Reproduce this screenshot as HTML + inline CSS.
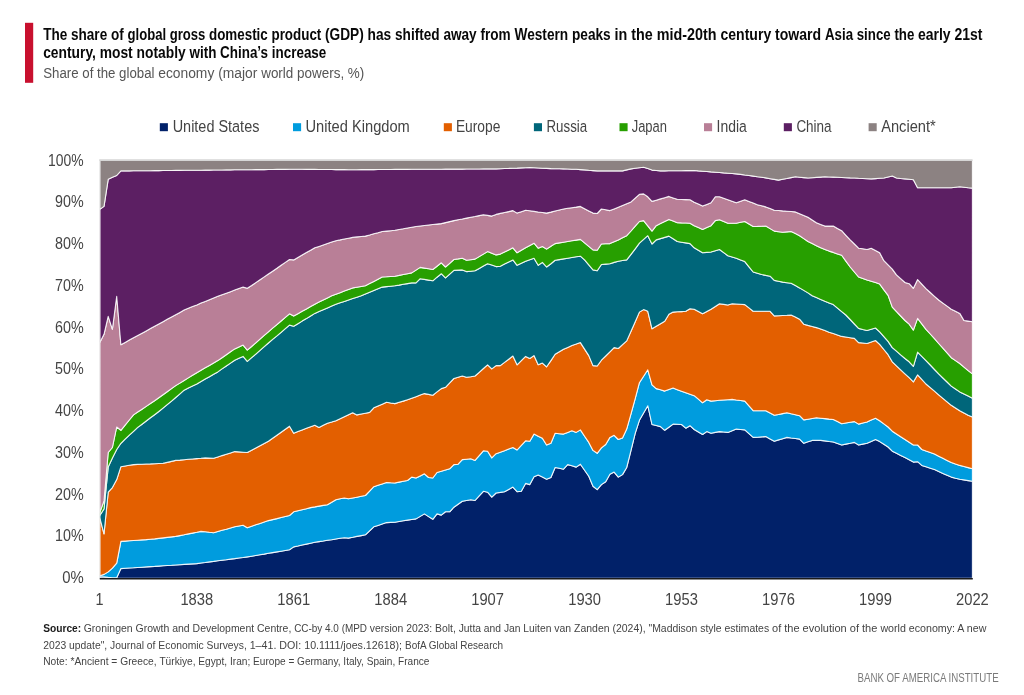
<!DOCTYPE html>
<html><head><meta charset="utf-8"><title>Share of global GDP</title>
<style>
html,body{margin:0;padding:0;background:#ffffff;}
body{width:1024px;height:695px;overflow:hidden;font-family:"Liberation Sans",sans-serif;}
svg{position:absolute;left:0;top:0;display:block;font-family:"Liberation Sans",sans-serif;will-change:transform;}
</style></head>
<body>
<svg width="1024" height="695" viewBox="0 0 1024 695">
<rect x="0" y="0" width="1024" height="695" fill="#ffffff"/>
<rect x="25" y="22.8" width="8.2" height="60" fill="#c8102e"/>
<g>
<polygon points="99.8,576.9 104.0,576.9 108.2,577.4 112.4,577.8 116.7,577.8 120.9,568.6 125.1,568.3 129.3,568.0 133.5,567.8 137.7,567.5 142.0,567.2 146.2,566.9 150.4,566.6 154.6,566.4 158.8,566.1 163.0,565.8 167.2,565.5 171.5,565.3 175.7,565.0 179.9,564.7 184.1,564.4 188.3,564.1 192.5,563.9 196.8,563.6 201.0,563.0 205.2,562.5 209.4,561.9 213.6,561.4 217.8,560.8 222.0,560.2 226.3,559.7 230.5,559.1 234.7,558.6 238.9,558.0 243.1,557.5 247.3,556.9 251.6,556.2 255.8,555.5 260.0,554.8 264.2,554.1 268.4,553.3 272.6,552.6 276.9,551.9 281.1,551.2 285.3,550.5 289.5,549.8 293.7,546.9 297.9,546.0 302.1,545.0 306.4,544.1 310.6,543.2 314.8,542.3 319.0,541.6 323.2,541.0 327.4,540.3 331.7,539.7 335.9,539.0 340.1,538.3 344.3,537.7 348.5,538.1 352.7,537.3 356.9,536.4 361.2,535.6 365.4,534.8 369.6,530.8 373.8,526.8 378.0,525.4 382.2,524.0 386.5,522.6 390.7,522.4 394.9,522.2 399.1,521.5 403.3,520.8 407.5,520.1 411.7,519.5 416.0,518.9 420.2,516.4 424.4,513.9 428.6,516.6 432.8,519.3 437.0,513.9 441.3,515.1 445.5,511.8 449.7,511.8 453.9,507.2 458.1,504.3 462.3,501.3 466.5,500.5 470.8,499.7 475.0,500.5 479.2,495.9 483.4,491.3 487.6,492.2 491.8,497.2 496.1,493.0 500.3,492.4 504.5,491.7 508.7,489.4 512.9,487.1 517.1,491.7 521.3,491.3 525.6,483.4 529.8,484.6 534.0,476.7 538.2,475.0 542.4,477.1 546.6,479.2 550.9,477.5 555.1,467.5 559.3,468.3 563.5,469.2 567.7,464.6 571.9,465.8 576.2,467.1 580.4,464.2 584.6,470.2 588.8,476.3 593.0,486.3 597.2,489.6 601.4,484.6 605.7,481.7 609.9,474.2 614.1,472.1 618.3,477.1 622.5,474.6 626.7,467.5 631.0,450.4 635.2,433.3 639.4,420.3 643.6,413.0 647.8,405.7 652.0,424.5 656.2,425.5 660.5,426.6 664.7,430.3 668.9,427.2 673.1,424.1 677.3,424.3 681.5,424.5 685.8,428.2 690.0,425.7 694.2,429.5 698.4,432.0 702.6,434.5 706.8,431.6 711.0,433.3 715.3,432.4 719.5,431.6 723.7,432.0 727.9,432.4 732.1,430.8 736.3,429.1 740.6,429.5 744.8,429.9 749.0,433.7 753.2,437.4 757.4,437.2 761.6,436.9 765.8,436.6 770.1,438.9 774.3,441.2 778.5,439.9 782.7,438.7 786.9,437.4 791.1,438.0 795.4,438.5 799.6,439.1 803.8,443.3 808.0,441.8 812.2,440.4 816.4,440.4 820.7,440.4 824.9,440.9 829.1,441.5 833.3,442.0 837.5,443.5 841.7,445.0 845.9,444.1 850.2,443.3 854.4,442.4 858.6,445.0 862.8,444.1 867.0,443.3 871.2,441.4 875.5,439.5 879.7,441.6 883.9,444.3 888.1,447.0 892.3,451.2 896.5,453.3 900.7,455.4 905.0,457.5 909.2,459.8 913.4,462.1 917.6,461.7 921.8,465.4 926.0,466.8 930.3,468.2 934.5,469.6 938.7,471.5 942.9,473.4 947.1,475.2 951.3,477.1 955.5,478.2 959.8,479.2 964.0,479.9 968.2,480.6 972.4,481.3 972.4,578.2 968.2,578.2 964.0,578.2 959.8,578.2 955.5,578.2 951.3,578.2 947.1,578.2 942.9,578.2 938.7,578.2 934.5,578.2 930.3,578.2 926.0,578.2 921.8,578.2 917.6,578.2 913.4,578.2 909.2,578.2 905.0,578.2 900.7,578.2 896.5,578.2 892.3,578.2 888.1,578.2 883.9,578.2 879.7,578.2 875.5,578.2 871.2,578.2 867.0,578.2 862.8,578.2 858.6,578.2 854.4,578.2 850.2,578.2 845.9,578.2 841.7,578.2 837.5,578.2 833.3,578.2 829.1,578.2 824.9,578.2 820.7,578.2 816.4,578.2 812.2,578.2 808.0,578.2 803.8,578.2 799.6,578.2 795.4,578.2 791.1,578.2 786.9,578.2 782.7,578.2 778.5,578.2 774.3,578.2 770.1,578.2 765.8,578.2 761.6,578.2 757.4,578.2 753.2,578.2 749.0,578.2 744.8,578.2 740.6,578.2 736.3,578.2 732.1,578.2 727.9,578.2 723.7,578.2 719.5,578.2 715.3,578.2 711.0,578.2 706.8,578.2 702.6,578.2 698.4,578.2 694.2,578.2 690.0,578.2 685.8,578.2 681.5,578.2 677.3,578.2 673.1,578.2 668.9,578.2 664.7,578.2 660.5,578.2 656.2,578.2 652.0,578.2 647.8,578.2 643.6,578.2 639.4,578.2 635.2,578.2 631.0,578.2 626.7,578.2 622.5,578.2 618.3,578.2 614.1,578.2 609.9,578.2 605.7,578.2 601.4,578.2 597.2,578.2 593.0,578.2 588.8,578.2 584.6,578.2 580.4,578.2 576.2,578.2 571.9,578.2 567.7,578.2 563.5,578.2 559.3,578.2 555.1,578.2 550.9,578.2 546.6,578.2 542.4,578.2 538.2,578.2 534.0,578.2 529.8,578.2 525.6,578.2 521.3,578.2 517.1,578.2 512.9,578.2 508.7,578.2 504.5,578.2 500.3,578.2 496.1,578.2 491.8,578.2 487.6,578.2 483.4,578.2 479.2,578.2 475.0,578.2 470.8,578.2 466.5,578.2 462.3,578.2 458.1,578.2 453.9,578.2 449.7,578.2 445.5,578.2 441.3,578.2 437.0,578.2 432.8,578.2 428.6,578.2 424.4,578.2 420.2,578.2 416.0,578.2 411.7,578.2 407.5,578.2 403.3,578.2 399.1,578.2 394.9,578.2 390.7,578.2 386.5,578.2 382.2,578.2 378.0,578.2 373.8,578.2 369.6,578.2 365.4,578.2 361.2,578.2 356.9,578.2 352.7,578.2 348.5,578.2 344.3,578.2 340.1,578.2 335.9,578.2 331.7,578.2 327.4,578.2 323.2,578.2 319.0,578.2 314.8,578.2 310.6,578.2 306.4,578.2 302.1,578.2 297.9,578.2 293.7,578.2 289.5,578.2 285.3,578.2 281.1,578.2 276.9,578.2 272.6,578.2 268.4,578.2 264.2,578.2 260.0,578.2 255.8,578.2 251.6,578.2 247.3,578.2 243.1,578.2 238.9,578.2 234.7,578.2 230.5,578.2 226.3,578.2 222.0,578.2 217.8,578.2 213.6,578.2 209.4,578.2 205.2,578.2 201.0,578.2 196.8,578.2 192.5,578.2 188.3,578.2 184.1,578.2 179.9,578.2 175.7,578.2 171.5,578.2 167.2,578.2 163.0,578.2 158.8,578.2 154.6,578.2 150.4,578.2 146.2,578.2 142.0,578.2 137.7,578.2 133.5,578.2 129.3,578.2 125.1,578.2 120.9,578.2 116.7,578.2 112.4,578.2 108.2,578.2 104.0,578.2 99.8,578.2" fill="#012169" stroke="#ffffff" stroke-opacity="0.85" stroke-width="1.1" stroke-linejoin="round"/>
<polygon points="99.8,575.7 104.0,574.4 108.2,571.9 112.4,568.2 116.7,563.2 120.9,541.4 125.1,541.1 129.3,540.8 133.5,540.5 137.7,540.2 142.0,539.9 146.2,539.6 150.4,539.2 154.6,538.9 158.8,538.4 163.0,537.9 167.2,537.4 171.5,536.9 175.7,536.4 179.9,535.6 184.1,534.8 188.3,533.9 192.5,533.1 196.8,532.3 201.0,531.4 205.2,531.8 209.4,532.3 213.6,532.7 217.8,531.5 222.0,530.3 226.3,529.2 230.5,528.0 234.7,526.8 238.9,526.0 243.1,525.2 247.3,527.7 251.6,526.2 255.8,524.8 260.0,523.4 264.2,522.0 268.4,520.6 272.6,519.6 276.9,518.6 281.1,517.5 285.3,516.5 289.5,515.5 293.7,511.8 297.9,510.7 302.1,509.7 306.4,508.7 310.6,507.6 314.8,506.9 319.0,506.1 323.2,505.4 327.4,504.7 331.7,502.2 335.9,499.7 340.1,498.8 344.3,498.0 348.5,498.8 352.7,498.0 356.9,497.2 361.2,496.3 365.4,495.5 369.6,491.1 373.8,486.7 378.0,485.3 382.2,483.9 386.5,482.5 390.7,482.8 394.9,483.0 399.1,482.1 403.3,481.3 407.5,480.5 411.7,477.1 416.0,478.0 420.2,475.9 424.4,473.8 428.6,477.5 432.8,478.0 437.0,472.5 441.3,471.3 445.5,470.0 449.7,468.8 453.9,464.6 458.1,464.2 462.3,459.6 466.5,459.2 470.8,458.7 475.0,460.4 479.2,455.6 483.4,450.8 487.6,451.2 491.8,457.9 496.1,453.7 500.3,452.3 504.5,450.8 508.7,449.1 512.9,447.5 517.1,450.0 521.3,445.4 525.6,440.8 529.8,441.2 534.0,434.1 538.2,436.2 542.4,438.3 546.6,445.0 550.9,443.3 555.1,433.3 559.3,433.7 563.5,434.1 567.7,432.4 571.9,430.8 576.2,432.4 580.4,429.9 584.6,436.2 588.8,442.4 593.0,450.4 597.2,453.3 601.4,447.9 605.7,444.5 609.9,437.4 614.1,435.3 618.3,439.5 622.5,437.9 626.7,429.1 631.0,413.8 635.2,398.6 639.4,382.7 643.6,376.2 647.8,369.8 652.0,384.8 656.2,388.6 660.5,389.8 664.7,391.1 668.9,389.6 673.1,388.1 677.3,389.7 681.5,391.2 685.8,392.7 690.0,394.2 694.2,395.7 698.4,399.2 702.6,402.8 706.8,399.8 711.0,401.1 715.3,400.7 719.5,400.3 723.7,400.0 727.9,399.7 732.1,399.4 736.3,400.0 740.6,400.5 744.8,401.1 749.0,405.9 753.2,410.7 757.4,410.7 761.6,410.7 765.8,410.7 770.1,413.0 774.3,415.3 778.5,414.5 782.7,413.6 786.9,412.8 791.1,413.8 795.4,414.7 799.6,415.7 803.8,419.9 808.0,419.2 812.2,418.5 816.4,417.8 820.7,418.2 824.9,418.6 829.1,419.1 833.3,419.5 837.5,421.6 841.7,423.7 845.9,423.0 850.2,422.3 854.4,421.6 858.6,424.1 862.8,423.0 867.0,422.0 871.2,420.1 875.5,418.2 879.7,420.7 883.9,423.9 888.1,427.0 892.3,431.2 896.5,434.0 900.7,436.7 905.0,439.5 909.2,442.2 913.4,445.0 917.6,445.0 921.8,449.5 926.0,451.1 930.3,452.6 934.5,454.1 938.7,456.2 942.9,458.3 947.1,460.4 951.3,462.5 955.5,464.0 959.8,465.4 964.0,466.5 968.2,467.6 972.4,468.8 972.4,481.3 968.2,480.6 964.0,479.9 959.8,479.2 955.5,478.2 951.3,477.1 947.1,475.2 942.9,473.4 938.7,471.5 934.5,469.6 930.3,468.2 926.0,466.8 921.8,465.4 917.6,461.7 913.4,462.1 909.2,459.8 905.0,457.5 900.7,455.4 896.5,453.3 892.3,451.2 888.1,447.0 883.9,444.3 879.7,441.6 875.5,439.5 871.2,441.4 867.0,443.3 862.8,444.1 858.6,445.0 854.4,442.4 850.2,443.3 845.9,444.1 841.7,445.0 837.5,443.5 833.3,442.0 829.1,441.5 824.9,440.9 820.7,440.4 816.4,440.4 812.2,440.4 808.0,441.8 803.8,443.3 799.6,439.1 795.4,438.5 791.1,438.0 786.9,437.4 782.7,438.7 778.5,439.9 774.3,441.2 770.1,438.9 765.8,436.6 761.6,436.9 757.4,437.2 753.2,437.4 749.0,433.7 744.8,429.9 740.6,429.5 736.3,429.1 732.1,430.8 727.9,432.4 723.7,432.0 719.5,431.6 715.3,432.4 711.0,433.3 706.8,431.6 702.6,434.5 698.4,432.0 694.2,429.5 690.0,425.7 685.8,428.2 681.5,424.5 677.3,424.3 673.1,424.1 668.9,427.2 664.7,430.3 660.5,426.6 656.2,425.5 652.0,424.5 647.8,405.7 643.6,413.0 639.4,420.3 635.2,433.3 631.0,450.4 626.7,467.5 622.5,474.6 618.3,477.1 614.1,472.1 609.9,474.2 605.7,481.7 601.4,484.6 597.2,489.6 593.0,486.3 588.8,476.3 584.6,470.2 580.4,464.2 576.2,467.1 571.9,465.8 567.7,464.6 563.5,469.2 559.3,468.3 555.1,467.5 550.9,477.5 546.6,479.2 542.4,477.1 538.2,475.0 534.0,476.7 529.8,484.6 525.6,483.4 521.3,491.3 517.1,491.7 512.9,487.1 508.7,489.4 504.5,491.7 500.3,492.4 496.1,493.0 491.8,497.2 487.6,492.2 483.4,491.3 479.2,495.9 475.0,500.5 470.8,499.7 466.5,500.5 462.3,501.3 458.1,504.3 453.9,507.2 449.7,511.8 445.5,511.8 441.3,515.1 437.0,513.9 432.8,519.3 428.6,516.6 424.4,513.9 420.2,516.4 416.0,518.9 411.7,519.5 407.5,520.1 403.3,520.8 399.1,521.5 394.9,522.2 390.7,522.4 386.5,522.6 382.2,524.0 378.0,525.4 373.8,526.8 369.6,530.8 365.4,534.8 361.2,535.6 356.9,536.4 352.7,537.3 348.5,538.1 344.3,537.7 340.1,538.3 335.9,539.0 331.7,539.7 327.4,540.3 323.2,541.0 319.0,541.6 314.8,542.3 310.6,543.2 306.4,544.1 302.1,545.0 297.9,546.0 293.7,546.9 289.5,549.8 285.3,550.5 281.1,551.2 276.9,551.9 272.6,552.6 268.4,553.3 264.2,554.1 260.0,554.8 255.8,555.5 251.6,556.2 247.3,556.9 243.1,557.5 238.9,558.0 234.7,558.6 230.5,559.1 226.3,559.7 222.0,560.2 217.8,560.8 213.6,561.4 209.4,561.9 205.2,562.5 201.0,563.0 196.8,563.6 192.5,563.9 188.3,564.1 184.1,564.4 179.9,564.7 175.7,565.0 171.5,565.3 167.2,565.5 163.0,565.8 158.8,566.1 154.6,566.4 150.4,566.6 146.2,566.9 142.0,567.2 137.7,567.5 133.5,567.8 129.3,568.0 125.1,568.3 120.9,568.6 116.7,577.8 112.4,577.8 108.2,577.4 104.0,576.9 99.8,576.9" fill="#009cde" stroke="#ffffff" stroke-opacity="0.85" stroke-width="1.1" stroke-linejoin="round"/>
<polygon points="99.8,517.6 104.0,533.9 108.2,492.2 112.4,487.6 116.7,479.6 120.9,466.7 125.1,466.0 129.3,465.3 133.5,464.6 137.7,464.4 142.0,464.2 146.2,464.0 150.4,463.9 154.6,463.7 158.8,463.5 163.0,463.3 167.2,462.4 171.5,461.4 175.7,460.4 179.9,460.1 184.1,459.7 188.3,459.3 192.5,459.0 196.8,458.6 201.0,458.3 205.2,457.9 209.4,458.1 213.6,458.3 217.8,457.0 222.0,455.6 226.3,454.3 230.5,453.0 234.7,451.6 238.9,451.9 243.1,452.2 247.3,452.5 251.6,450.2 255.8,448.0 260.0,445.7 264.2,443.4 268.4,441.2 272.6,438.2 276.9,435.2 281.1,432.2 285.3,429.2 289.5,426.2 293.7,433.3 297.9,431.6 302.1,429.9 306.4,428.2 310.6,426.8 314.8,425.3 319.0,427.4 323.2,425.3 327.4,423.2 331.7,422.0 335.9,420.7 340.1,418.7 344.3,416.8 348.5,414.8 352.7,412.8 356.9,414.9 361.2,414.0 365.4,413.2 369.6,412.4 373.8,407.8 378.0,406.0 382.2,404.2 386.5,402.3 390.7,403.0 394.9,403.6 399.1,402.3 403.3,401.1 407.5,399.8 411.7,398.3 416.0,396.7 420.2,395.1 424.4,393.6 428.6,394.4 432.8,395.2 437.0,391.9 441.3,388.6 445.5,387.3 449.7,382.9 453.9,378.5 458.1,377.3 462.3,376.0 466.5,377.3 470.8,376.7 475.0,376.0 479.2,372.3 483.4,368.5 487.6,364.8 491.8,368.9 496.1,365.6 500.3,365.6 504.5,362.4 508.7,359.2 512.9,356.0 517.1,364.8 521.3,360.6 525.6,356.4 529.8,358.5 534.0,355.6 538.2,364.8 542.4,363.1 546.6,366.8 550.9,360.6 555.1,354.3 559.3,351.8 563.5,349.3 567.7,347.4 571.9,345.5 576.2,344.1 580.4,342.6 584.6,349.1 588.8,355.6 593.0,365.6 597.2,366.0 601.4,360.2 605.7,356.0 609.9,351.8 614.1,347.6 618.3,348.5 622.5,344.7 626.7,340.9 631.0,331.3 635.2,321.7 639.4,312.1 643.6,309.6 647.8,311.3 652.0,328.8 656.2,326.3 660.5,323.8 664.7,321.3 668.9,314.2 673.1,312.1 677.3,311.8 681.5,311.6 685.8,311.3 690.0,308.8 694.2,309.2 698.4,311.5 702.6,313.8 706.8,311.5 711.0,309.2 715.3,306.5 719.5,303.8 723.7,304.4 727.9,305.0 732.1,303.8 736.3,304.0 740.6,304.3 744.8,304.6 749.0,307.9 753.2,311.3 757.4,311.3 761.6,311.3 765.8,311.3 770.1,311.3 774.3,315.9 778.5,315.7 782.7,315.5 786.9,315.3 791.1,315.0 795.4,317.1 799.6,319.2 803.8,324.2 808.0,325.4 812.2,326.5 816.4,327.6 820.7,329.1 824.9,330.6 829.1,332.2 833.3,333.6 837.5,335.0 841.7,336.4 845.9,337.0 850.2,337.7 854.4,338.4 858.6,342.6 862.8,343.0 867.0,343.5 871.2,342.0 875.5,340.5 879.7,344.3 883.9,349.5 888.1,354.7 892.3,361.8 896.5,365.9 900.7,369.9 905.0,373.9 909.2,377.7 913.4,381.9 917.6,374.8 921.8,379.4 926.0,384.0 930.3,387.6 934.5,391.2 938.7,394.8 942.9,398.3 947.1,401.8 951.3,405.3 955.5,408.0 959.8,410.7 964.0,413.0 968.2,415.3 972.4,417.0 972.4,468.8 968.2,467.6 964.0,466.5 959.8,465.4 955.5,464.0 951.3,462.5 947.1,460.4 942.9,458.3 938.7,456.2 934.5,454.1 930.3,452.6 926.0,451.1 921.8,449.5 917.6,445.0 913.4,445.0 909.2,442.2 905.0,439.5 900.7,436.7 896.5,434.0 892.3,431.2 888.1,427.0 883.9,423.9 879.7,420.7 875.5,418.2 871.2,420.1 867.0,422.0 862.8,423.0 858.6,424.1 854.4,421.6 850.2,422.3 845.9,423.0 841.7,423.7 837.5,421.6 833.3,419.5 829.1,419.1 824.9,418.6 820.7,418.2 816.4,417.8 812.2,418.5 808.0,419.2 803.8,419.9 799.6,415.7 795.4,414.7 791.1,413.8 786.9,412.8 782.7,413.6 778.5,414.5 774.3,415.3 770.1,413.0 765.8,410.7 761.6,410.7 757.4,410.7 753.2,410.7 749.0,405.9 744.8,401.1 740.6,400.5 736.3,400.0 732.1,399.4 727.9,399.7 723.7,400.0 719.5,400.3 715.3,400.7 711.0,401.1 706.8,399.8 702.6,402.8 698.4,399.2 694.2,395.7 690.0,394.2 685.8,392.7 681.5,391.2 677.3,389.7 673.1,388.1 668.9,389.6 664.7,391.1 660.5,389.8 656.2,388.6 652.0,384.8 647.8,369.8 643.6,376.2 639.4,382.7 635.2,398.6 631.0,413.8 626.7,429.1 622.5,437.9 618.3,439.5 614.1,435.3 609.9,437.4 605.7,444.5 601.4,447.9 597.2,453.3 593.0,450.4 588.8,442.4 584.6,436.2 580.4,429.9 576.2,432.4 571.9,430.8 567.7,432.4 563.5,434.1 559.3,433.7 555.1,433.3 550.9,443.3 546.6,445.0 542.4,438.3 538.2,436.2 534.0,434.1 529.8,441.2 525.6,440.8 521.3,445.4 517.1,450.0 512.9,447.5 508.7,449.1 504.5,450.8 500.3,452.3 496.1,453.7 491.8,457.9 487.6,451.2 483.4,450.8 479.2,455.6 475.0,460.4 470.8,458.7 466.5,459.2 462.3,459.6 458.1,464.2 453.9,464.6 449.7,468.8 445.5,470.0 441.3,471.3 437.0,472.5 432.8,478.0 428.6,477.5 424.4,473.8 420.2,475.9 416.0,478.0 411.7,477.1 407.5,480.5 403.3,481.3 399.1,482.1 394.9,483.0 390.7,482.8 386.5,482.5 382.2,483.9 378.0,485.3 373.8,486.7 369.6,491.1 365.4,495.5 361.2,496.3 356.9,497.2 352.7,498.0 348.5,498.8 344.3,498.0 340.1,498.8 335.9,499.7 331.7,502.2 327.4,504.7 323.2,505.4 319.0,506.1 314.8,506.9 310.6,507.6 306.4,508.7 302.1,509.7 297.9,510.7 293.7,511.8 289.5,515.5 285.3,516.5 281.1,517.5 276.9,518.6 272.6,519.6 268.4,520.6 264.2,522.0 260.0,523.4 255.8,524.8 251.6,526.2 247.3,527.7 243.1,525.2 238.9,526.0 234.7,526.8 230.5,528.0 226.3,529.2 222.0,530.3 217.8,531.5 213.6,532.7 209.4,532.3 205.2,531.8 201.0,531.4 196.8,532.3 192.5,533.1 188.3,533.9 184.1,534.8 179.9,535.6 175.7,536.4 171.5,536.9 167.2,537.4 163.0,537.9 158.8,538.4 154.6,538.9 150.4,539.2 146.2,539.6 142.0,539.9 137.7,540.2 133.5,540.5 129.3,540.8 125.1,541.1 120.9,541.4 116.7,563.2 112.4,568.2 108.2,571.9 104.0,574.4 99.8,575.7" fill="#e35f00" stroke="#ffffff" stroke-opacity="0.85" stroke-width="1.1" stroke-linejoin="round"/>
<polygon points="99.8,515.5 104.0,508.9 108.2,467.1 112.4,457.9 116.7,449.5 120.9,443.3 125.1,439.1 129.3,435.2 133.5,431.3 137.7,427.4 142.0,424.2 146.2,421.0 150.4,417.8 154.6,414.7 158.8,411.5 163.0,408.1 167.2,404.6 171.5,401.1 175.7,397.5 179.9,393.9 184.1,390.2 188.3,388.1 192.5,386.1 196.8,384.0 201.0,381.5 205.2,379.1 209.4,376.7 213.6,374.3 217.8,371.9 222.0,368.9 226.3,366.0 230.5,363.1 234.7,360.2 238.9,358.3 243.1,356.4 247.3,361.4 251.6,357.7 255.8,354.1 260.0,350.4 264.2,346.7 268.4,343.0 272.6,339.4 276.9,335.9 281.1,332.3 285.3,328.7 289.5,325.1 293.7,326.3 297.9,323.7 302.1,321.1 306.4,318.6 310.6,316.0 314.8,313.4 319.0,311.5 323.2,309.7 327.4,307.9 331.7,306.0 335.9,304.2 340.1,302.8 344.3,301.4 348.5,300.0 352.7,298.6 356.9,297.2 361.2,295.8 365.4,294.1 369.6,292.3 373.8,290.6 378.0,288.8 382.2,287.1 386.5,286.6 390.7,286.2 394.9,285.8 399.1,285.1 403.3,284.3 407.5,283.6 411.7,282.9 416.0,282.9 420.2,278.7 424.4,279.4 428.6,280.1 432.8,280.8 437.0,277.2 441.3,273.7 445.5,277.9 449.7,274.1 453.9,270.4 458.1,270.1 462.3,269.9 466.5,271.6 470.8,271.2 475.0,270.8 479.2,268.4 483.4,266.0 487.6,263.7 491.8,265.1 496.1,266.6 500.3,266.2 504.5,264.1 508.7,262.0 512.9,259.9 517.1,265.3 521.3,263.3 525.6,261.2 529.8,259.7 534.0,258.2 538.2,265.3 542.4,262.4 546.6,267.0 550.9,263.7 555.1,260.3 559.3,259.6 563.5,258.9 567.7,258.2 571.9,257.5 576.2,256.8 580.4,256.2 584.6,259.9 588.8,264.9 593.0,269.9 597.2,270.8 601.4,264.5 605.7,264.1 609.9,263.7 614.1,262.4 618.3,261.2 622.5,260.5 626.7,259.9 631.0,254.3 635.2,248.8 639.4,243.2 643.6,239.4 647.8,235.7 652.0,244.0 656.2,239.9 660.5,238.6 664.7,237.4 668.9,236.1 673.1,238.8 677.3,241.5 681.5,242.2 685.8,242.9 690.0,243.6 694.2,247.8 698.4,250.3 702.6,252.8 706.8,252.4 711.0,252.0 715.3,250.7 719.5,249.5 723.7,252.6 727.9,255.7 732.1,257.0 736.3,258.2 740.6,259.9 744.8,261.6 749.0,266.8 753.2,272.0 757.4,273.3 761.6,274.5 765.8,275.4 770.1,276.2 774.3,280.4 778.5,281.2 782.7,282.1 786.9,282.7 791.1,283.3 795.4,285.6 799.6,287.9 803.8,290.4 808.0,292.9 812.2,295.8 816.4,297.6 820.7,299.5 824.9,301.3 829.1,302.9 833.3,304.6 837.5,308.1 841.7,311.6 845.9,315.0 850.2,319.5 854.4,324.0 858.6,328.4 862.8,329.5 867.0,330.5 871.2,329.3 875.5,328.0 879.7,331.8 883.9,336.6 888.1,341.4 892.3,347.6 896.5,351.2 900.7,354.9 905.0,358.5 909.2,361.8 913.4,366.4 917.6,352.2 921.8,356.4 926.0,360.6 930.3,365.0 934.5,369.5 938.7,373.9 942.9,378.0 947.1,382.0 951.3,386.1 955.5,389.0 959.8,391.9 964.0,394.0 968.2,396.1 972.4,398.2 972.4,417.0 968.2,415.3 964.0,413.0 959.8,410.7 955.5,408.0 951.3,405.3 947.1,401.8 942.9,398.3 938.7,394.8 934.5,391.2 930.3,387.6 926.0,384.0 921.8,379.4 917.6,374.8 913.4,381.9 909.2,377.7 905.0,373.9 900.7,369.9 896.5,365.9 892.3,361.8 888.1,354.7 883.9,349.5 879.7,344.3 875.5,340.5 871.2,342.0 867.0,343.5 862.8,343.0 858.6,342.6 854.4,338.4 850.2,337.7 845.9,337.0 841.7,336.4 837.5,335.0 833.3,333.6 829.1,332.2 824.9,330.6 820.7,329.1 816.4,327.6 812.2,326.5 808.0,325.4 803.8,324.2 799.6,319.2 795.4,317.1 791.1,315.0 786.9,315.3 782.7,315.5 778.5,315.7 774.3,315.9 770.1,311.3 765.8,311.3 761.6,311.3 757.4,311.3 753.2,311.3 749.0,307.9 744.8,304.6 740.6,304.3 736.3,304.0 732.1,303.8 727.9,305.0 723.7,304.4 719.5,303.8 715.3,306.5 711.0,309.2 706.8,311.5 702.6,313.8 698.4,311.5 694.2,309.2 690.0,308.8 685.8,311.3 681.5,311.6 677.3,311.8 673.1,312.1 668.9,314.2 664.7,321.3 660.5,323.8 656.2,326.3 652.0,328.8 647.8,311.3 643.6,309.6 639.4,312.1 635.2,321.7 631.0,331.3 626.7,340.9 622.5,344.7 618.3,348.5 614.1,347.6 609.9,351.8 605.7,356.0 601.4,360.2 597.2,366.0 593.0,365.6 588.8,355.6 584.6,349.1 580.4,342.6 576.2,344.1 571.9,345.5 567.7,347.4 563.5,349.3 559.3,351.8 555.1,354.3 550.9,360.6 546.6,366.8 542.4,363.1 538.2,364.8 534.0,355.6 529.8,358.5 525.6,356.4 521.3,360.6 517.1,364.8 512.9,356.0 508.7,359.2 504.5,362.4 500.3,365.6 496.1,365.6 491.8,368.9 487.6,364.8 483.4,368.5 479.2,372.3 475.0,376.0 470.8,376.7 466.5,377.3 462.3,376.0 458.1,377.3 453.9,378.5 449.7,382.9 445.5,387.3 441.3,388.6 437.0,391.9 432.8,395.2 428.6,394.4 424.4,393.6 420.2,395.1 416.0,396.7 411.7,398.3 407.5,399.8 403.3,401.1 399.1,402.3 394.9,403.6 390.7,403.0 386.5,402.3 382.2,404.2 378.0,406.0 373.8,407.8 369.6,412.4 365.4,413.2 361.2,414.0 356.9,414.9 352.7,412.8 348.5,414.8 344.3,416.8 340.1,418.7 335.9,420.7 331.7,422.0 327.4,423.2 323.2,425.3 319.0,427.4 314.8,425.3 310.6,426.8 306.4,428.2 302.1,429.9 297.9,431.6 293.7,433.3 289.5,426.2 285.3,429.2 281.1,432.2 276.9,435.2 272.6,438.2 268.4,441.2 264.2,443.4 260.0,445.7 255.8,448.0 251.6,450.2 247.3,452.5 243.1,452.2 238.9,451.9 234.7,451.6 230.5,453.0 226.3,454.3 222.0,455.6 217.8,457.0 213.6,458.3 209.4,458.1 205.2,457.9 201.0,458.3 196.8,458.6 192.5,459.0 188.3,459.3 184.1,459.7 179.9,460.1 175.7,460.4 171.5,461.4 167.2,462.4 163.0,463.3 158.8,463.5 154.6,463.7 150.4,463.9 146.2,464.0 142.0,464.2 137.7,464.4 133.5,464.6 129.3,465.3 125.1,466.0 120.9,466.7 116.7,479.6 112.4,487.6 108.2,492.2 104.0,533.9 99.8,517.6" fill="#00667a" stroke="#ffffff" stroke-opacity="0.85" stroke-width="1.1" stroke-linejoin="round"/>
<polygon points="99.8,512.6 104.0,500.9 108.2,452.5 112.4,447.5 116.7,427.0 120.9,430.3 125.1,425.2 129.3,420.0 133.5,414.9 137.7,412.0 142.0,409.2 146.2,406.4 150.4,403.5 154.6,400.7 158.8,397.7 163.0,394.7 167.2,391.7 171.5,388.6 175.7,385.6 179.9,383.1 184.1,380.5 188.3,377.9 192.5,375.3 196.8,372.7 201.0,370.3 205.2,367.8 209.4,365.4 213.6,363.0 217.8,360.6 222.0,357.7 226.3,354.7 230.5,351.8 234.7,348.9 238.9,347.0 243.1,345.1 247.3,350.1 251.6,346.5 255.8,342.8 260.0,339.1 264.2,335.4 268.4,331.8 272.6,328.2 276.9,324.6 281.1,321.0 285.3,317.4 289.5,313.8 293.7,316.1 297.9,313.7 302.1,311.3 306.4,309.0 310.6,306.6 314.8,304.2 319.0,302.1 323.2,300.0 327.4,297.9 331.7,295.8 335.9,294.2 340.1,292.7 344.3,291.1 348.5,289.5 352.7,287.9 356.9,287.2 361.2,286.5 365.4,285.8 369.6,283.6 373.8,281.4 378.0,279.2 382.2,277.0 386.5,276.8 390.7,276.5 394.9,276.2 399.1,275.4 403.3,274.5 407.5,273.7 411.7,272.9 416.0,270.1 420.2,267.4 424.4,268.1 428.6,268.8 432.8,269.5 437.0,266.2 441.3,262.8 445.5,267.0 449.7,263.3 453.9,259.5 458.1,258.9 462.3,258.2 466.5,260.3 470.8,259.7 475.0,259.1 479.2,256.6 483.4,254.1 487.6,251.6 491.8,253.2 496.1,254.9 500.3,254.1 504.5,252.0 508.7,249.9 512.9,247.8 517.1,252.8 521.3,250.3 525.6,247.8 529.8,245.5 534.0,243.2 538.2,248.2 542.4,246.5 546.6,249.1 550.9,246.3 555.1,243.6 559.3,242.9 563.5,242.2 567.7,241.5 571.9,240.8 576.2,240.1 580.4,239.4 584.6,242.9 588.8,246.4 593.0,249.9 597.2,250.3 601.4,244.0 605.7,243.8 609.9,243.6 614.1,241.7 618.3,239.9 622.5,237.8 626.7,235.7 631.0,231.0 635.2,226.2 639.4,221.5 643.6,220.6 647.8,225.9 652.0,231.1 656.2,225.7 660.5,223.6 664.7,221.5 668.9,219.4 673.1,221.1 677.3,222.7 681.5,222.9 685.8,223.0 690.0,223.2 694.2,225.7 698.4,227.5 702.6,229.4 706.8,227.5 711.0,225.7 715.3,220.6 719.5,219.8 723.7,221.5 727.9,223.2 732.1,223.2 736.3,223.2 740.6,222.3 744.8,221.5 749.0,224.0 753.2,226.5 757.4,226.4 761.6,226.2 765.8,226.1 770.1,228.6 774.3,231.1 778.5,231.7 782.7,232.3 786.9,231.9 791.1,231.5 795.4,233.6 799.6,235.7 803.8,238.6 808.0,241.5 812.2,243.6 816.4,245.7 820.7,247.8 824.9,249.5 829.1,251.1 833.3,252.4 837.5,253.9 841.7,255.3 845.9,261.2 850.2,267.0 854.4,272.0 858.6,277.0 862.8,278.5 867.0,280.0 871.2,281.2 875.5,282.5 879.7,284.1 883.9,289.8 888.1,295.4 892.3,307.1 896.5,311.6 900.7,316.0 905.0,320.5 909.2,324.2 913.4,330.1 917.6,318.4 921.8,323.8 926.0,329.3 930.3,334.0 934.5,338.7 938.7,343.5 942.9,348.2 947.1,352.9 951.3,357.7 955.5,360.6 959.8,363.5 964.0,367.1 968.2,370.6 972.4,373.9 972.4,398.2 968.2,396.1 964.0,394.0 959.8,391.9 955.5,389.0 951.3,386.1 947.1,382.0 942.9,378.0 938.7,373.9 934.5,369.5 930.3,365.0 926.0,360.6 921.8,356.4 917.6,352.2 913.4,366.4 909.2,361.8 905.0,358.5 900.7,354.9 896.5,351.2 892.3,347.6 888.1,341.4 883.9,336.6 879.7,331.8 875.5,328.0 871.2,329.3 867.0,330.5 862.8,329.5 858.6,328.4 854.4,324.0 850.2,319.5 845.9,315.0 841.7,311.6 837.5,308.1 833.3,304.6 829.1,302.9 824.9,301.3 820.7,299.5 816.4,297.6 812.2,295.8 808.0,292.9 803.8,290.4 799.6,287.9 795.4,285.6 791.1,283.3 786.9,282.7 782.7,282.1 778.5,281.2 774.3,280.4 770.1,276.2 765.8,275.4 761.6,274.5 757.4,273.3 753.2,272.0 749.0,266.8 744.8,261.6 740.6,259.9 736.3,258.2 732.1,257.0 727.9,255.7 723.7,252.6 719.5,249.5 715.3,250.7 711.0,252.0 706.8,252.4 702.6,252.8 698.4,250.3 694.2,247.8 690.0,243.6 685.8,242.9 681.5,242.2 677.3,241.5 673.1,238.8 668.9,236.1 664.7,237.4 660.5,238.6 656.2,239.9 652.0,244.0 647.8,235.7 643.6,239.4 639.4,243.2 635.2,248.8 631.0,254.3 626.7,259.9 622.5,260.5 618.3,261.2 614.1,262.4 609.9,263.7 605.7,264.1 601.4,264.5 597.2,270.8 593.0,269.9 588.8,264.9 584.6,259.9 580.4,256.2 576.2,256.8 571.9,257.5 567.7,258.2 563.5,258.9 559.3,259.6 555.1,260.3 550.9,263.7 546.6,267.0 542.4,262.4 538.2,265.3 534.0,258.2 529.8,259.7 525.6,261.2 521.3,263.3 517.1,265.3 512.9,259.9 508.7,262.0 504.5,264.1 500.3,266.2 496.1,266.6 491.8,265.1 487.6,263.7 483.4,266.0 479.2,268.4 475.0,270.8 470.8,271.2 466.5,271.6 462.3,269.9 458.1,270.1 453.9,270.4 449.7,274.1 445.5,277.9 441.3,273.7 437.0,277.2 432.8,280.8 428.6,280.1 424.4,279.4 420.2,278.7 416.0,282.9 411.7,282.9 407.5,283.6 403.3,284.3 399.1,285.1 394.9,285.8 390.7,286.2 386.5,286.6 382.2,287.1 378.0,288.8 373.8,290.6 369.6,292.3 365.4,294.1 361.2,295.8 356.9,297.2 352.7,298.6 348.5,300.0 344.3,301.4 340.1,302.8 335.9,304.2 331.7,306.0 327.4,307.9 323.2,309.7 319.0,311.5 314.8,313.4 310.6,316.0 306.4,318.6 302.1,321.1 297.9,323.7 293.7,326.3 289.5,325.1 285.3,328.7 281.1,332.3 276.9,335.9 272.6,339.4 268.4,343.0 264.2,346.7 260.0,350.4 255.8,354.1 251.6,357.7 247.3,361.4 243.1,356.4 238.9,358.3 234.7,360.2 230.5,363.1 226.3,366.0 222.0,368.9 217.8,371.9 213.6,374.3 209.4,376.7 205.2,379.1 201.0,381.5 196.8,384.0 192.5,386.1 188.3,388.1 184.1,390.2 179.9,393.9 175.7,397.5 171.5,401.1 167.2,404.6 163.0,408.1 158.8,411.5 154.6,414.7 150.4,417.8 146.2,421.0 142.0,424.2 137.7,427.4 133.5,431.3 129.3,435.2 125.1,439.1 120.9,443.3 116.7,449.5 112.4,457.9 108.2,467.1 104.0,508.9 99.8,515.5" fill="#279f00" stroke="#ffffff" stroke-opacity="0.85" stroke-width="1.1" stroke-linejoin="round"/>
<polygon points="99.8,342.6 104.0,334.3 108.2,316.3 112.4,329.3 116.7,296.3 120.9,344.7 125.1,342.4 129.3,340.1 133.5,337.8 137.7,335.5 142.0,333.2 146.2,330.9 150.4,328.6 154.6,326.3 158.8,324.0 163.0,321.7 167.2,319.3 171.5,317.0 175.7,314.7 179.9,312.4 184.1,310.0 188.3,308.3 192.5,306.6 196.8,304.9 201.0,303.1 205.2,301.4 209.4,299.7 213.6,298.0 217.8,296.3 222.0,294.7 226.3,293.2 230.5,291.7 234.7,290.1 238.9,288.6 243.1,287.1 247.3,288.3 251.6,285.5 255.8,282.6 260.0,279.8 264.2,276.9 268.4,274.0 272.6,271.2 276.9,268.3 281.1,265.3 285.3,262.4 289.5,259.5 293.7,259.9 297.9,257.5 302.1,255.1 306.4,252.6 310.6,250.2 314.8,247.8 319.0,246.4 323.2,245.0 327.4,243.5 331.7,242.1 335.9,240.7 340.1,239.9 344.3,239.0 348.5,238.2 352.7,237.4 356.9,236.9 361.2,236.5 365.4,236.1 369.6,235.0 373.8,233.8 378.0,232.7 382.2,231.5 386.5,231.1 390.7,230.7 394.9,230.3 399.1,229.5 403.3,228.8 407.5,228.0 411.7,227.2 416.0,226.5 420.2,226.0 424.4,225.5 428.6,225.0 432.8,224.5 437.0,224.1 441.3,223.6 445.5,222.6 449.7,221.6 453.9,220.6 458.1,219.8 462.3,219.0 466.5,218.1 470.8,217.3 475.0,216.5 479.2,215.6 483.4,214.8 487.6,215.4 491.8,216.1 496.1,214.4 500.3,213.4 504.5,212.5 508.7,211.6 512.9,210.6 517.1,213.1 521.3,211.7 525.6,210.2 529.8,210.8 534.0,211.4 538.2,212.0 542.4,212.5 546.6,213.1 550.9,212.1 555.1,211.0 559.3,210.0 563.5,209.0 567.7,208.3 571.9,207.7 576.2,207.1 580.4,206.4 584.6,208.7 588.8,210.9 593.0,213.1 597.2,213.5 601.4,209.0 605.7,209.8 609.9,210.6 614.1,209.0 618.3,207.3 622.5,205.5 626.7,203.7 631.0,201.9 635.2,198.1 639.4,194.3 643.6,193.9 647.8,196.8 652.0,201.4 656.2,200.2 660.5,198.9 664.7,197.7 668.9,196.4 673.1,197.9 677.3,199.3 681.5,199.5 685.8,199.6 690.0,199.8 694.2,202.3 698.4,204.1 702.6,206.0 706.8,204.4 711.0,202.7 715.3,196.8 719.5,196.8 723.7,198.3 727.9,199.8 732.1,201.2 736.3,202.7 740.6,201.2 744.8,199.8 749.0,201.4 753.2,203.1 757.4,204.8 761.6,205.8 765.8,206.9 770.1,208.5 774.3,210.2 778.5,210.5 782.7,210.9 786.9,211.2 791.1,211.5 795.4,211.9 799.6,213.7 803.8,215.5 808.0,217.3 812.2,220.0 816.4,222.7 820.7,224.4 824.9,226.1 829.1,226.1 833.3,226.1 837.5,228.4 841.7,230.7 845.9,235.3 850.2,239.9 854.4,244.0 858.6,248.2 862.8,248.8 867.0,249.5 871.2,248.2 875.5,250.5 879.7,252.8 883.9,260.7 888.1,264.9 892.3,269.1 896.5,274.9 900.7,278.7 905.0,282.5 909.2,283.7 913.4,288.3 917.6,279.5 921.8,284.1 926.0,288.7 930.3,292.5 934.5,296.3 938.7,300.0 942.9,303.1 947.1,306.1 951.3,309.2 955.5,311.3 959.8,313.4 964.0,320.5 968.2,321.1 972.4,321.7 972.4,373.9 968.2,370.6 964.0,367.1 959.8,363.5 955.5,360.6 951.3,357.7 947.1,352.9 942.9,348.2 938.7,343.5 934.5,338.7 930.3,334.0 926.0,329.3 921.8,323.8 917.6,318.4 913.4,330.1 909.2,324.2 905.0,320.5 900.7,316.0 896.5,311.6 892.3,307.1 888.1,295.4 883.9,289.8 879.7,284.1 875.5,282.5 871.2,281.2 867.0,280.0 862.8,278.5 858.6,277.0 854.4,272.0 850.2,267.0 845.9,261.2 841.7,255.3 837.5,253.9 833.3,252.4 829.1,251.1 824.9,249.5 820.7,247.8 816.4,245.7 812.2,243.6 808.0,241.5 803.8,238.6 799.6,235.7 795.4,233.6 791.1,231.5 786.9,231.9 782.7,232.3 778.5,231.7 774.3,231.1 770.1,228.6 765.8,226.1 761.6,226.2 757.4,226.4 753.2,226.5 749.0,224.0 744.8,221.5 740.6,222.3 736.3,223.2 732.1,223.2 727.9,223.2 723.7,221.5 719.5,219.8 715.3,220.6 711.0,225.7 706.8,227.5 702.6,229.4 698.4,227.5 694.2,225.7 690.0,223.2 685.8,223.0 681.5,222.9 677.3,222.7 673.1,221.1 668.9,219.4 664.7,221.5 660.5,223.6 656.2,225.7 652.0,231.1 647.8,225.9 643.6,220.6 639.4,221.5 635.2,226.2 631.0,231.0 626.7,235.7 622.5,237.8 618.3,239.9 614.1,241.7 609.9,243.6 605.7,243.8 601.4,244.0 597.2,250.3 593.0,249.9 588.8,246.4 584.6,242.9 580.4,239.4 576.2,240.1 571.9,240.8 567.7,241.5 563.5,242.2 559.3,242.9 555.1,243.6 550.9,246.3 546.6,249.1 542.4,246.5 538.2,248.2 534.0,243.2 529.8,245.5 525.6,247.8 521.3,250.3 517.1,252.8 512.9,247.8 508.7,249.9 504.5,252.0 500.3,254.1 496.1,254.9 491.8,253.2 487.6,251.6 483.4,254.1 479.2,256.6 475.0,259.1 470.8,259.7 466.5,260.3 462.3,258.2 458.1,258.9 453.9,259.5 449.7,263.3 445.5,267.0 441.3,262.8 437.0,266.2 432.8,269.5 428.6,268.8 424.4,268.1 420.2,267.4 416.0,270.1 411.7,272.9 407.5,273.7 403.3,274.5 399.1,275.4 394.9,276.2 390.7,276.5 386.5,276.8 382.2,277.0 378.0,279.2 373.8,281.4 369.6,283.6 365.4,285.8 361.2,286.5 356.9,287.2 352.7,287.9 348.5,289.5 344.3,291.1 340.1,292.7 335.9,294.2 331.7,295.8 327.4,297.9 323.2,300.0 319.0,302.1 314.8,304.2 310.6,306.6 306.4,309.0 302.1,311.3 297.9,313.7 293.7,316.1 289.5,313.8 285.3,317.4 281.1,321.0 276.9,324.6 272.6,328.2 268.4,331.8 264.2,335.4 260.0,339.1 255.8,342.8 251.6,346.5 247.3,350.1 243.1,345.1 238.9,347.0 234.7,348.9 230.5,351.8 226.3,354.7 222.0,357.7 217.8,360.6 213.6,363.0 209.4,365.4 205.2,367.8 201.0,370.3 196.8,372.7 192.5,375.3 188.3,377.9 184.1,380.5 179.9,383.1 175.7,385.6 171.5,388.6 167.2,391.7 163.0,394.7 158.8,397.7 154.6,400.7 150.4,403.5 146.2,406.4 142.0,409.2 137.7,412.0 133.5,414.9 129.3,420.0 125.1,425.2 120.9,430.3 116.7,427.0 112.4,447.5 108.2,452.5 104.0,500.9 99.8,512.6" fill="#b97f97" stroke="#ffffff" stroke-opacity="0.85" stroke-width="1.1" stroke-linejoin="round"/>
<polygon points="99.8,209.4 104.0,206.4 108.2,179.3 112.4,177.2 116.7,175.5 120.9,170.9 125.1,170.9 129.3,170.9 133.5,170.8 137.7,170.8 142.0,170.7 146.2,170.7 150.4,170.7 154.6,170.6 158.8,170.6 163.0,170.5 167.2,170.5 171.5,170.5 175.7,170.4 179.9,170.4 184.1,170.3 188.3,170.3 192.5,170.2 196.8,170.2 201.0,170.2 205.2,170.1 209.4,170.1 213.6,170.0 217.8,170.0 222.0,170.0 226.3,169.9 230.5,169.9 234.7,169.8 238.9,169.8 243.1,169.8 247.3,169.7 251.6,169.7 255.8,169.6 260.0,169.6 264.2,169.6 268.4,169.5 272.6,169.5 276.9,169.4 281.1,169.4 285.3,169.4 289.5,169.3 293.7,169.3 297.9,169.3 302.1,169.3 306.4,169.4 310.6,169.4 314.8,169.4 319.0,169.5 323.2,169.5 327.4,169.5 331.7,169.5 335.9,169.6 340.1,169.6 344.3,169.6 348.5,169.7 352.7,169.7 356.9,169.7 361.2,169.6 365.4,169.6 369.6,169.6 373.8,169.6 378.0,169.5 382.2,169.5 386.5,169.5 390.7,169.5 394.9,169.4 399.1,169.4 403.3,169.4 407.5,169.4 411.7,169.3 416.0,169.3 420.2,169.3 424.4,169.3 428.6,169.2 432.8,169.2 437.0,169.2 441.3,169.2 445.5,169.1 449.7,169.1 453.9,169.1 458.1,169.1 462.3,169.1 466.5,169.0 470.8,169.0 475.0,169.0 479.2,169.0 483.4,168.9 487.6,168.9 491.8,168.9 496.1,168.9 500.3,168.7 504.5,168.5 508.7,168.4 512.9,168.2 517.1,168.1 521.3,167.9 525.6,167.8 529.8,167.6 534.0,167.8 538.2,168.0 542.4,168.2 546.6,168.4 550.9,168.6 555.1,168.7 559.3,168.8 563.5,168.9 567.7,169.0 571.9,169.2 576.2,169.3 580.4,169.6 584.6,169.9 588.8,170.3 593.0,170.6 597.2,170.9 601.4,170.9 605.7,170.9 609.9,170.9 614.1,170.9 618.3,170.9 622.5,170.9 626.7,169.9 631.0,168.9 635.2,168.3 639.4,167.7 643.6,167.2 647.8,168.6 652.0,170.1 656.2,170.5 660.5,170.9 664.7,170.9 668.9,170.8 673.1,170.8 677.3,170.7 681.5,170.7 685.8,170.6 690.0,170.6 694.2,170.5 698.4,170.9 702.6,171.2 706.8,171.5 711.0,171.9 715.3,172.2 719.5,172.5 723.7,172.9 727.9,173.2 732.1,173.5 736.3,173.9 740.6,174.4 744.8,175.0 749.0,175.5 753.2,176.1 757.4,176.7 761.6,177.2 765.8,177.9 770.1,178.7 774.3,179.4 778.5,180.1 782.7,179.3 786.9,178.5 791.1,177.6 795.4,176.8 799.6,177.2 803.8,177.6 808.0,178.0 812.2,177.7 816.4,177.4 820.7,177.1 824.9,176.8 829.1,177.0 833.3,177.1 837.5,177.3 841.7,177.5 845.9,177.7 850.2,177.9 854.4,178.0 858.6,178.3 862.8,178.5 867.0,178.7 871.2,178.9 875.5,178.6 879.7,178.3 883.9,178.0 888.1,177.0 892.3,176.0 896.5,178.0 900.7,178.5 905.0,178.9 909.2,179.3 913.4,179.7 917.6,187.7 921.8,187.7 926.0,187.7 930.3,187.7 934.5,187.7 938.7,187.7 942.9,187.7 947.1,187.7 951.3,187.7 955.5,187.2 959.8,186.8 964.0,187.2 968.2,187.7 972.4,188.1 972.4,321.7 968.2,321.1 964.0,320.5 959.8,313.4 955.5,311.3 951.3,309.2 947.1,306.1 942.9,303.1 938.7,300.0 934.5,296.3 930.3,292.5 926.0,288.7 921.8,284.1 917.6,279.5 913.4,288.3 909.2,283.7 905.0,282.5 900.7,278.7 896.5,274.9 892.3,269.1 888.1,264.9 883.9,260.7 879.7,252.8 875.5,250.5 871.2,248.2 867.0,249.5 862.8,248.8 858.6,248.2 854.4,244.0 850.2,239.9 845.9,235.3 841.7,230.7 837.5,228.4 833.3,226.1 829.1,226.1 824.9,226.1 820.7,224.4 816.4,222.7 812.2,220.0 808.0,217.3 803.8,215.5 799.6,213.7 795.4,211.9 791.1,211.5 786.9,211.2 782.7,210.9 778.5,210.5 774.3,210.2 770.1,208.5 765.8,206.9 761.6,205.8 757.4,204.8 753.2,203.1 749.0,201.4 744.8,199.8 740.6,201.2 736.3,202.7 732.1,201.2 727.9,199.8 723.7,198.3 719.5,196.8 715.3,196.8 711.0,202.7 706.8,204.4 702.6,206.0 698.4,204.1 694.2,202.3 690.0,199.8 685.8,199.6 681.5,199.5 677.3,199.3 673.1,197.9 668.9,196.4 664.7,197.7 660.5,198.9 656.2,200.2 652.0,201.4 647.8,196.8 643.6,193.9 639.4,194.3 635.2,198.1 631.0,201.9 626.7,203.7 622.5,205.5 618.3,207.3 614.1,209.0 609.9,210.6 605.7,209.8 601.4,209.0 597.2,213.5 593.0,213.1 588.8,210.9 584.6,208.7 580.4,206.4 576.2,207.1 571.9,207.7 567.7,208.3 563.5,209.0 559.3,210.0 555.1,211.0 550.9,212.1 546.6,213.1 542.4,212.5 538.2,212.0 534.0,211.4 529.8,210.8 525.6,210.2 521.3,211.7 517.1,213.1 512.9,210.6 508.7,211.6 504.5,212.5 500.3,213.4 496.1,214.4 491.8,216.1 487.6,215.4 483.4,214.8 479.2,215.6 475.0,216.5 470.8,217.3 466.5,218.1 462.3,219.0 458.1,219.8 453.9,220.6 449.7,221.6 445.5,222.6 441.3,223.6 437.0,224.1 432.8,224.5 428.6,225.0 424.4,225.5 420.2,226.0 416.0,226.5 411.7,227.2 407.5,228.0 403.3,228.8 399.1,229.5 394.9,230.3 390.7,230.7 386.5,231.1 382.2,231.5 378.0,232.7 373.8,233.8 369.6,235.0 365.4,236.1 361.2,236.5 356.9,236.9 352.7,237.4 348.5,238.2 344.3,239.0 340.1,239.9 335.9,240.7 331.7,242.1 327.4,243.5 323.2,245.0 319.0,246.4 314.8,247.8 310.6,250.2 306.4,252.6 302.1,255.1 297.9,257.5 293.7,259.9 289.5,259.5 285.3,262.4 281.1,265.3 276.9,268.3 272.6,271.2 268.4,274.0 264.2,276.9 260.0,279.8 255.8,282.6 251.6,285.5 247.3,288.3 243.1,287.1 238.9,288.6 234.7,290.1 230.5,291.7 226.3,293.2 222.0,294.7 217.8,296.3 213.6,298.0 209.4,299.7 205.2,301.4 201.0,303.1 196.8,304.9 192.5,306.6 188.3,308.3 184.1,310.0 179.9,312.4 175.7,314.7 171.5,317.0 167.2,319.3 163.0,321.7 158.8,324.0 154.6,326.3 150.4,328.6 146.2,330.9 142.0,333.2 137.7,335.5 133.5,337.8 129.3,340.1 125.1,342.4 120.9,344.7 116.7,296.3 112.4,329.3 108.2,316.3 104.0,334.3 99.8,342.6" fill="#5c1f63" stroke="#ffffff" stroke-opacity="0.85" stroke-width="1.1" stroke-linejoin="round"/>
<polygon points="99.8,160.5 104.0,160.5 108.2,160.5 112.4,160.5 116.7,160.5 120.9,160.5 125.1,160.5 129.3,160.5 133.5,160.5 137.7,160.5 142.0,160.5 146.2,160.5 150.4,160.5 154.6,160.5 158.8,160.5 163.0,160.5 167.2,160.5 171.5,160.5 175.7,160.5 179.9,160.5 184.1,160.5 188.3,160.5 192.5,160.5 196.8,160.5 201.0,160.5 205.2,160.5 209.4,160.5 213.6,160.5 217.8,160.5 222.0,160.5 226.3,160.5 230.5,160.5 234.7,160.5 238.9,160.5 243.1,160.5 247.3,160.5 251.6,160.5 255.8,160.5 260.0,160.5 264.2,160.5 268.4,160.5 272.6,160.5 276.9,160.5 281.1,160.5 285.3,160.5 289.5,160.5 293.7,160.5 297.9,160.5 302.1,160.5 306.4,160.5 310.6,160.5 314.8,160.5 319.0,160.5 323.2,160.5 327.4,160.5 331.7,160.5 335.9,160.5 340.1,160.5 344.3,160.5 348.5,160.5 352.7,160.5 356.9,160.5 361.2,160.5 365.4,160.5 369.6,160.5 373.8,160.5 378.0,160.5 382.2,160.5 386.5,160.5 390.7,160.5 394.9,160.5 399.1,160.5 403.3,160.5 407.5,160.5 411.7,160.5 416.0,160.5 420.2,160.5 424.4,160.5 428.6,160.5 432.8,160.5 437.0,160.5 441.3,160.5 445.5,160.5 449.7,160.5 453.9,160.5 458.1,160.5 462.3,160.5 466.5,160.5 470.8,160.5 475.0,160.5 479.2,160.5 483.4,160.5 487.6,160.5 491.8,160.5 496.1,160.5 500.3,160.5 504.5,160.5 508.7,160.5 512.9,160.5 517.1,160.5 521.3,160.5 525.6,160.5 529.8,160.5 534.0,160.5 538.2,160.5 542.4,160.5 546.6,160.5 550.9,160.5 555.1,160.5 559.3,160.5 563.5,160.5 567.7,160.5 571.9,160.5 576.2,160.5 580.4,160.5 584.6,160.5 588.8,160.5 593.0,160.5 597.2,160.5 601.4,160.5 605.7,160.5 609.9,160.5 614.1,160.5 618.3,160.5 622.5,160.5 626.7,160.5 631.0,160.5 635.2,160.5 639.4,160.5 643.6,160.5 647.8,160.5 652.0,160.5 656.2,160.5 660.5,160.5 664.7,160.5 668.9,160.5 673.1,160.5 677.3,160.5 681.5,160.5 685.8,160.5 690.0,160.5 694.2,160.5 698.4,160.5 702.6,160.5 706.8,160.5 711.0,160.5 715.3,160.5 719.5,160.5 723.7,160.5 727.9,160.5 732.1,160.5 736.3,160.5 740.6,160.5 744.8,160.5 749.0,160.5 753.2,160.5 757.4,160.5 761.6,160.5 765.8,160.5 770.1,160.5 774.3,160.5 778.5,160.5 782.7,160.5 786.9,160.5 791.1,160.5 795.4,160.5 799.6,160.5 803.8,160.5 808.0,160.5 812.2,160.5 816.4,160.5 820.7,160.5 824.9,160.5 829.1,160.5 833.3,160.5 837.5,160.5 841.7,160.5 845.9,160.5 850.2,160.5 854.4,160.5 858.6,160.5 862.8,160.5 867.0,160.5 871.2,160.5 875.5,160.5 879.7,160.5 883.9,160.5 888.1,160.5 892.3,160.5 896.5,160.5 900.7,160.5 905.0,160.5 909.2,160.5 913.4,160.5 917.6,160.5 921.8,160.5 926.0,160.5 930.3,160.5 934.5,160.5 938.7,160.5 942.9,160.5 947.1,160.5 951.3,160.5 955.5,160.5 959.8,160.5 964.0,160.5 968.2,160.5 972.4,160.5 972.4,188.1 968.2,187.7 964.0,187.2 959.8,186.8 955.5,187.2 951.3,187.7 947.1,187.7 942.9,187.7 938.7,187.7 934.5,187.7 930.3,187.7 926.0,187.7 921.8,187.7 917.6,187.7 913.4,179.7 909.2,179.3 905.0,178.9 900.7,178.5 896.5,178.0 892.3,176.0 888.1,177.0 883.9,178.0 879.7,178.3 875.5,178.6 871.2,178.9 867.0,178.7 862.8,178.5 858.6,178.3 854.4,178.0 850.2,177.9 845.9,177.7 841.7,177.5 837.5,177.3 833.3,177.1 829.1,177.0 824.9,176.8 820.7,177.1 816.4,177.4 812.2,177.7 808.0,178.0 803.8,177.6 799.6,177.2 795.4,176.8 791.1,177.6 786.9,178.5 782.7,179.3 778.5,180.1 774.3,179.4 770.1,178.7 765.8,177.9 761.6,177.2 757.4,176.7 753.2,176.1 749.0,175.5 744.8,175.0 740.6,174.4 736.3,173.9 732.1,173.5 727.9,173.2 723.7,172.9 719.5,172.5 715.3,172.2 711.0,171.9 706.8,171.5 702.6,171.2 698.4,170.9 694.2,170.5 690.0,170.6 685.8,170.6 681.5,170.7 677.3,170.7 673.1,170.8 668.9,170.8 664.7,170.9 660.5,170.9 656.2,170.5 652.0,170.1 647.8,168.6 643.6,167.2 639.4,167.7 635.2,168.3 631.0,168.9 626.7,169.9 622.5,170.9 618.3,170.9 614.1,170.9 609.9,170.9 605.7,170.9 601.4,170.9 597.2,170.9 593.0,170.6 588.8,170.3 584.6,169.9 580.4,169.6 576.2,169.3 571.9,169.2 567.7,169.0 563.5,168.9 559.3,168.8 555.1,168.7 550.9,168.6 546.6,168.4 542.4,168.2 538.2,168.0 534.0,167.8 529.8,167.6 525.6,167.8 521.3,167.9 517.1,168.1 512.9,168.2 508.7,168.4 504.5,168.5 500.3,168.7 496.1,168.9 491.8,168.9 487.6,168.9 483.4,168.9 479.2,169.0 475.0,169.0 470.8,169.0 466.5,169.0 462.3,169.1 458.1,169.1 453.9,169.1 449.7,169.1 445.5,169.1 441.3,169.2 437.0,169.2 432.8,169.2 428.6,169.2 424.4,169.3 420.2,169.3 416.0,169.3 411.7,169.3 407.5,169.4 403.3,169.4 399.1,169.4 394.9,169.4 390.7,169.5 386.5,169.5 382.2,169.5 378.0,169.5 373.8,169.6 369.6,169.6 365.4,169.6 361.2,169.6 356.9,169.7 352.7,169.7 348.5,169.7 344.3,169.6 340.1,169.6 335.9,169.6 331.7,169.5 327.4,169.5 323.2,169.5 319.0,169.5 314.8,169.4 310.6,169.4 306.4,169.4 302.1,169.3 297.9,169.3 293.7,169.3 289.5,169.3 285.3,169.4 281.1,169.4 276.9,169.4 272.6,169.5 268.4,169.5 264.2,169.6 260.0,169.6 255.8,169.6 251.6,169.7 247.3,169.7 243.1,169.8 238.9,169.8 234.7,169.8 230.5,169.9 226.3,169.9 222.0,170.0 217.8,170.0 213.6,170.0 209.4,170.1 205.2,170.1 201.0,170.2 196.8,170.2 192.5,170.2 188.3,170.3 184.1,170.3 179.9,170.4 175.7,170.4 171.5,170.5 167.2,170.5 163.0,170.5 158.8,170.6 154.6,170.6 150.4,170.7 146.2,170.7 142.0,170.7 137.7,170.8 133.5,170.8 129.3,170.9 125.1,170.9 120.9,170.9 116.7,175.5 112.4,177.2 108.2,179.3 104.0,206.4 99.8,209.4" fill="#8c8282" stroke="#ffffff" stroke-opacity="0.85" stroke-width="1.1" stroke-linejoin="round"/>
</g>
<line x1="99.9" y1="159.4" x2="99.9" y2="579" stroke="#e4e4e4" stroke-width="0.9"/>
<line x1="99.4" y1="160.2" x2="972.6" y2="160.2" stroke="#d6d6d6" stroke-width="1.7"/>
<line x1="99.8" y1="578.8" x2="972.8" y2="578.8" stroke="#1a1a1a" stroke-width="1.4"/>
<g>
<text x="43.2" y="40.0" font-size="16.6" font-weight="bold" fill="#080808" text-anchor="start" textLength="84.3" lengthAdjust="spacingAndGlyphs">The share of&#160;</text>
<text x="127.5" y="40.0" font-size="16.6" font-weight="bold" fill="#080808" text-anchor="start" textLength="81.5" lengthAdjust="spacingAndGlyphs">global gross&#160;</text>
<text x="209.0" y="40.0" font-size="16.6" font-weight="bold" fill="#080808" text-anchor="start" textLength="116.0" lengthAdjust="spacingAndGlyphs">domestic product&#160;</text>
<text x="325.0" y="40.0" font-size="16.6" font-weight="bold" fill="#080808" text-anchor="start" textLength="70.0" lengthAdjust="spacingAndGlyphs">(GDP) has&#160;</text>
<text x="395.0" y="40.0" font-size="16.6" font-weight="bold" fill="#080808" text-anchor="start" textLength="119.5" lengthAdjust="spacingAndGlyphs">shifted away from&#160;</text>
<text x="514.5" y="40.0" font-size="16.6" font-weight="bold" fill="#080808" text-anchor="start" textLength="100.0" lengthAdjust="spacingAndGlyphs">Western peaks&#160;</text>
<text x="614.5" y="40.0" font-size="16.6" font-weight="bold" fill="#080808" text-anchor="start" textLength="106.0" lengthAdjust="spacingAndGlyphs">in the mid-20th&#160;</text>
<text x="720.5" y="40.0" font-size="16.6" font-weight="bold" fill="#080808" text-anchor="start" textLength="104.5" lengthAdjust="spacingAndGlyphs">century toward&#160;</text>
<text x="825.0" y="40.0" font-size="16.6" font-weight="bold" fill="#080808" text-anchor="start" textLength="93.0" lengthAdjust="spacingAndGlyphs">Asia since the&#160;</text>
<text x="918.0" y="40.0" font-size="16.6" font-weight="bold" fill="#080808" text-anchor="start" textLength="64.5" lengthAdjust="spacingAndGlyphs">early 21st</text>
<text x="43.2" y="58.0" font-size="16.6" font-weight="bold" fill="#080808" text-anchor="start" textLength="146.3" lengthAdjust="spacingAndGlyphs">century, most notably&#160;</text>
<text x="189.5" y="58.0" font-size="16.6" font-weight="bold" fill="#080808" text-anchor="start" textLength="136.8" lengthAdjust="spacingAndGlyphs">with China’s increase</text>
<text x="43.2" y="78.0" font-size="15.5" font-weight="normal" fill="#555555" text-anchor="start" textLength="115.0" lengthAdjust="spacingAndGlyphs">Share of the global&#160;</text>
<text x="158.2" y="78.0" font-size="15.5" font-weight="normal" fill="#555555" text-anchor="start" textLength="103.0" lengthAdjust="spacingAndGlyphs">economy (major&#160;</text>
<text x="261.2" y="78.0" font-size="15.5" font-weight="normal" fill="#555555" text-anchor="start" textLength="103.1" lengthAdjust="spacingAndGlyphs">world powers, %)</text>
<rect x="159.8" y="123.2" width="8.1" height="8.0" fill="#012169"/>
<text x="172.7" y="132.2" font-size="16.8" font-weight="normal" fill="#444444" text-anchor="start" textLength="86.7" lengthAdjust="spacingAndGlyphs">United States</text>
<rect x="293.0" y="123.2" width="8.1" height="8.0" fill="#009cde"/>
<text x="305.5" y="132.2" font-size="16.8" font-weight="normal" fill="#444444" text-anchor="start" textLength="104.3" lengthAdjust="spacingAndGlyphs">United Kingdom</text>
<rect x="443.8" y="123.2" width="8.1" height="8.0" fill="#e35f00"/>
<text x="455.9" y="132.2" font-size="16.8" font-weight="normal" fill="#444444" text-anchor="start" textLength="44.5" lengthAdjust="spacingAndGlyphs">Europe</text>
<rect x="533.9" y="123.2" width="8.1" height="8.0" fill="#00667a"/>
<text x="546.5" y="132.2" font-size="16.8" font-weight="normal" fill="#444444" text-anchor="start" textLength="40.7" lengthAdjust="spacingAndGlyphs">Russia</text>
<rect x="619.5" y="123.2" width="8.1" height="8.0" fill="#279f00"/>
<text x="631.7" y="132.2" font-size="16.8" font-weight="normal" fill="#444444" text-anchor="start" textLength="35.3" lengthAdjust="spacingAndGlyphs">Japan</text>
<rect x="704.0" y="123.2" width="8.1" height="8.0" fill="#b97f97"/>
<text x="716.6" y="132.2" font-size="16.8" font-weight="normal" fill="#444444" text-anchor="start" textLength="30.2" lengthAdjust="spacingAndGlyphs">India</text>
<rect x="783.8" y="123.2" width="8.1" height="8.0" fill="#5c1f63"/>
<text x="796.4" y="132.2" font-size="16.8" font-weight="normal" fill="#444444" text-anchor="start" textLength="35.2" lengthAdjust="spacingAndGlyphs">China</text>
<rect x="868.6" y="123.2" width="8.1" height="8.0" fill="#8c8282"/>
<text x="881.2" y="132.2" font-size="16.8" font-weight="normal" fill="#444444" text-anchor="start" textLength="54.6" lengthAdjust="spacingAndGlyphs">Ancient*</text>
<text x="62.2" y="583.2" font-size="16.8" font-weight="normal" fill="#444444" text-anchor="start" textLength="21.5" lengthAdjust="spacingAndGlyphs">0%</text>
<text x="55.1" y="541.4" font-size="16.8" font-weight="normal" fill="#444444" text-anchor="start" textLength="28.6" lengthAdjust="spacingAndGlyphs">10%</text>
<text x="55.1" y="499.7" font-size="16.8" font-weight="normal" fill="#444444" text-anchor="start" textLength="28.6" lengthAdjust="spacingAndGlyphs">20%</text>
<text x="55.1" y="457.9" font-size="16.8" font-weight="normal" fill="#444444" text-anchor="start" textLength="28.6" lengthAdjust="spacingAndGlyphs">30%</text>
<text x="55.1" y="416.1" font-size="16.8" font-weight="normal" fill="#444444" text-anchor="start" textLength="28.6" lengthAdjust="spacingAndGlyphs">40%</text>
<text x="55.1" y="374.4" font-size="16.8" font-weight="normal" fill="#444444" text-anchor="start" textLength="28.6" lengthAdjust="spacingAndGlyphs">50%</text>
<text x="55.1" y="332.6" font-size="16.8" font-weight="normal" fill="#444444" text-anchor="start" textLength="28.6" lengthAdjust="spacingAndGlyphs">60%</text>
<text x="55.1" y="290.8" font-size="16.8" font-weight="normal" fill="#444444" text-anchor="start" textLength="28.6" lengthAdjust="spacingAndGlyphs">70%</text>
<text x="55.1" y="249.0" font-size="16.8" font-weight="normal" fill="#444444" text-anchor="start" textLength="28.6" lengthAdjust="spacingAndGlyphs">80%</text>
<text x="55.1" y="207.3" font-size="16.8" font-weight="normal" fill="#444444" text-anchor="start" textLength="28.6" lengthAdjust="spacingAndGlyphs">90%</text>
<text x="48.1" y="165.5" font-size="16.8" font-weight="normal" fill="#444444" text-anchor="start" textLength="35.6" lengthAdjust="spacingAndGlyphs">100%</text>
<text x="95.6" y="604.6" font-size="16.8" font-weight="normal" fill="#444444" text-anchor="start" textLength="8.0" lengthAdjust="spacingAndGlyphs">1</text>
<text x="180.4" y="604.6" font-size="16.8" font-weight="normal" fill="#444444" text-anchor="start" textLength="32.8" lengthAdjust="spacingAndGlyphs">1838</text>
<text x="277.3" y="604.6" font-size="16.8" font-weight="normal" fill="#444444" text-anchor="start" textLength="32.8" lengthAdjust="spacingAndGlyphs">1861</text>
<text x="374.3" y="604.6" font-size="16.8" font-weight="normal" fill="#444444" text-anchor="start" textLength="32.8" lengthAdjust="spacingAndGlyphs">1884</text>
<text x="471.2" y="604.6" font-size="16.8" font-weight="normal" fill="#444444" text-anchor="start" textLength="32.8" lengthAdjust="spacingAndGlyphs">1907</text>
<text x="568.2" y="604.6" font-size="16.8" font-weight="normal" fill="#444444" text-anchor="start" textLength="32.8" lengthAdjust="spacingAndGlyphs">1930</text>
<text x="665.1" y="604.6" font-size="16.8" font-weight="normal" fill="#444444" text-anchor="start" textLength="32.8" lengthAdjust="spacingAndGlyphs">1953</text>
<text x="762.1" y="604.6" font-size="16.8" font-weight="normal" fill="#444444" text-anchor="start" textLength="32.8" lengthAdjust="spacingAndGlyphs">1976</text>
<text x="859.1" y="604.6" font-size="16.8" font-weight="normal" fill="#444444" text-anchor="start" textLength="32.8" lengthAdjust="spacingAndGlyphs">1999</text>
<text x="956.0" y="604.6" font-size="16.8" font-weight="normal" fill="#444444" text-anchor="start" textLength="32.8" lengthAdjust="spacingAndGlyphs">2022</text>
<text x="43.2" y="632.0" font-size="11.8" font-weight="bold" fill="#1a1a1a" text-anchor="start" textLength="38.0" lengthAdjust="spacingAndGlyphs">Source:</text>
<text x="83.7" y="632.0" font-size="11.8" font-weight="normal" fill="#444444" text-anchor="start" textLength="108.9" lengthAdjust="spacingAndGlyphs">Groningen Growth and&#160;</text>
<text x="192.6" y="632.0" font-size="11.8" font-weight="normal" fill="#444444" text-anchor="start" textLength="101.6" lengthAdjust="spacingAndGlyphs">Development Centre,&#160;</text>
<text x="294.2" y="632.0" font-size="11.8" font-weight="normal" fill="#444444" text-anchor="start" textLength="75.6" lengthAdjust="spacingAndGlyphs">CC-by 4.0 (MPD&#160;</text>
<text x="369.8" y="632.0" font-size="11.8" font-weight="normal" fill="#444444" text-anchor="start" textLength="88.9" lengthAdjust="spacingAndGlyphs">version 2023: Bolt,&#160;</text>
<text x="458.7" y="632.0" font-size="11.8" font-weight="normal" fill="#444444" text-anchor="start" textLength="95.6" lengthAdjust="spacingAndGlyphs">Jutta and Jan Luiten&#160;</text>
<text x="554.3" y="632.0" font-size="11.8" font-weight="normal" fill="#444444" text-anchor="start" textLength="94.2" lengthAdjust="spacingAndGlyphs">van Zanden (2024),&#160;</text>
<text x="648.5" y="632.0" font-size="11.8" font-weight="normal" fill="#444444" text-anchor="start" textLength="123.5" lengthAdjust="spacingAndGlyphs">"Maddison style estimates&#160;</text>
<text x="772.0" y="632.0" font-size="11.8" font-weight="normal" fill="#444444" text-anchor="start" textLength="108.4" lengthAdjust="spacingAndGlyphs">of the evolution of the&#160;</text>
<text x="880.4" y="632.0" font-size="11.8" font-weight="normal" fill="#444444" text-anchor="start" textLength="106.0" lengthAdjust="spacingAndGlyphs">world economy: A new</text>
<text x="43.2" y="648.8" font-size="11.8" font-weight="normal" fill="#444444" text-anchor="start" textLength="206.5" lengthAdjust="spacingAndGlyphs">2023 update", Journal of Economic Surveys,&#160;</text>
<text x="249.7" y="648.8" font-size="11.8" font-weight="normal" fill="#444444" text-anchor="start" textLength="155.3" lengthAdjust="spacingAndGlyphs">1–41. DOI: 10.1111/joes.12618);&#160;</text>
<text x="405.0" y="648.8" font-size="11.8" font-weight="normal" fill="#444444" text-anchor="start" textLength="98.0" lengthAdjust="spacingAndGlyphs">BofA Global Research</text>
<text x="43.2" y="665.4" font-size="11.8" font-weight="normal" fill="#444444" text-anchor="start" textLength="116.2" lengthAdjust="spacingAndGlyphs">Note: *Ancient = Greece,&#160;</text>
<text x="159.4" y="665.4" font-size="11.8" font-weight="normal" fill="#444444" text-anchor="start" textLength="93.7" lengthAdjust="spacingAndGlyphs">Türkiye, Egypt, Iran;&#160;</text>
<text x="253.1" y="665.4" font-size="11.8" font-weight="normal" fill="#444444" text-anchor="start" textLength="176.3" lengthAdjust="spacingAndGlyphs">Europe = Germany, Italy, Spain, France</text>
<text x="857.5" y="681.8" font-size="12" font-weight="normal" fill="#7a7a7a" text-anchor="start" textLength="141.1" lengthAdjust="spacingAndGlyphs">BANK OF AMERICA INSTITUTE</text>
</g>
</svg>
</body></html>
